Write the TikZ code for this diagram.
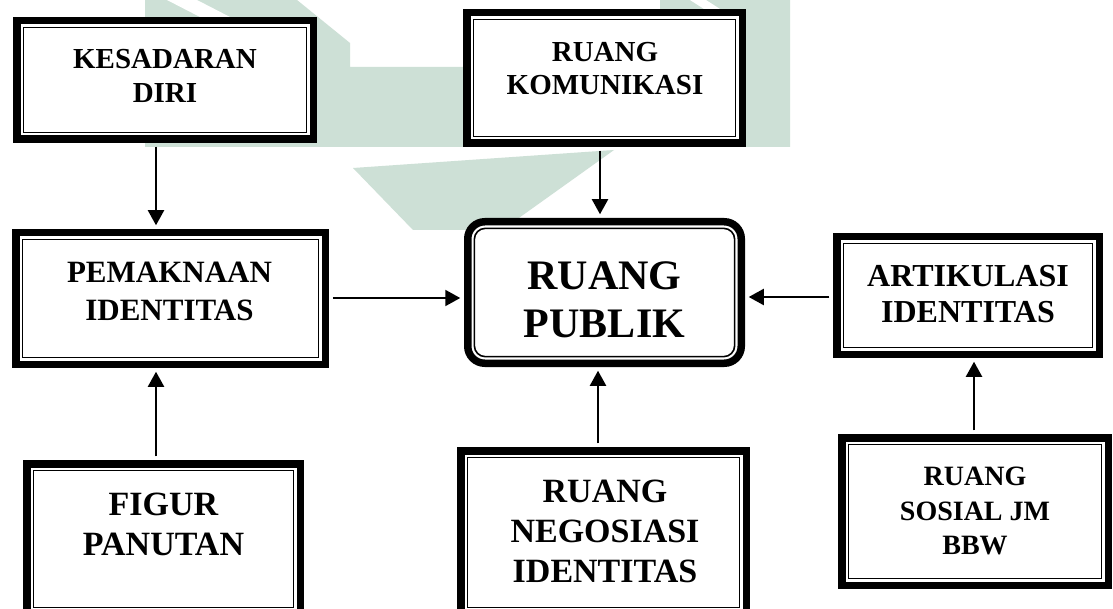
\documentclass[tikz,border=0pt]{standalone}
\usepackage{fontspec}
\setmainfont{Liberation Serif}
\usetikzlibrary{arrows.meta}
\definecolor{wm}{RGB}{205,224,214}
\begin{document}
\begin{tikzpicture}[x=1pt,y=-1pt,
  dbox/.style={draw, line width=7.5pt, inner sep=0pt, fill=white,
    path picture={\draw[line width=1.6pt]
      ([shift={(6.6pt,-6.6pt)}]path picture bounding box.north west) rectangle
      ([shift={(-6.6pt,6.6pt)}]path picture bounding box.south east);}},
  rbox/.style={draw, line width=7.5pt, inner sep=0pt, fill=white, rounded corners=17pt,
    path picture={\draw[line width=1.6pt, rounded corners=11pt]
      ([shift={(6.6pt,-6.6pt)}]path picture bounding box.north west) rectangle
      ([shift={(-6.6pt,6.6pt)}]path picture bounding box.south east);}},
  txt/.style={align=center, inner sep=0pt, anchor=north},
  arr/.style={line width=2pt, -{Triangle[length=15pt,width=16pt]},
    shorten >=3.75pt, shorten <=3.75pt}
]
\useasboundingbox (0,0) rectangle (1113,609);
\clip (0,0) rectangle (1113,609);
\fill[white] (0,0) rectangle (1113,609);

% watermark
\fill[wm] (145,0) -- (297,0) -- (350,43) -- (350,67) -- (660,67) -- (660,0)
  -- (790,0) -- (790,147) -- (145,147) -- cycle;
\fill[wm] (353,168) -- (614,150) -- (502,230) -- (413,230) -- cycle;
\fill[white] (167,0) -- (197,0) -- (230,17) -- (200,17) -- cycle;
\fill[white] (690,0) -- (706,0) -- (720,9) -- (704,9) -- cycle;

% boxes
\node[dbox, minimum width=296.5pt, minimum height=118.5pt] (kes) at (165,80) {};
\node[dbox, minimum width=275.5pt, minimum height=130.5pt] (kom) at (604.5,78) {};
\node[dbox, minimum width=309.5pt, minimum height=131.5pt] (pem) at (170.5,298.5) {};
\node[rbox, minimum width=273.5pt, minimum height=141.5pt] (pub) at (604.5,292.5) {};
\node[dbox, minimum width=262.5pt, minimum height=117.5pt] (art) at (968,295.5) {};
\node[dbox, minimum width=273.5pt, minimum height=150.5pt] (fig) at (163.5,539) {};
\node[dbox, minimum width=285.5pt, minimum height=163.5pt] (neg) at (603.5,532.5) {};
\node[dbox, minimum width=266.5pt, minimum height=147.5pt] (sos) at (975,511.5) {};

% texts
\node[txt, font=\bfseries\fontsize{29}{34}\selectfont] (kes-t) at (165,49) {KESADARAN\\DIRI};
\node[txt, font=\bfseries\fontsize{29}{33}\selectfont] (kom-t) at (605,42) {RUANG\\KOMUNIKASI};
\node[txt, font=\bfseries\fontsize{31}{38}\selectfont] (pem-t) at (169.5,262) {PEMAKNAAN\\IDENTITAS};
\node[txt, font=\bfseries\fontsize{42}{48}\selectfont] (pub-t) at (604.5,261) {RUANG\\PUBLIK};
\node[txt, font=\bfseries\fontsize{32}{36}\selectfont] (art-t) at (968,265) {ARTIKULASI\\IDENTITAS};
\node[txt, font=\bfseries\fontsize{34}{40}\selectfont] (fig-t) at (163.5,493) {FIGUR\\PANUTAN};
\node[txt, font=\bfseries\fontsize{34}{40}\selectfont] (neg-t) at (605,480) {RUANG\\NEGOSIASI\\IDENTITAS};
\node[txt, font=\bfseries\fontsize{28}{34.5}\selectfont] (sos-t) at (975,467) {RUANG\\SOSIAL JM\\BBW};

% connector guides
\coordinate (xl) at (156,0);
\coordinate (xk) at (600,0);
\coordinate (xn) at (598,0);
\coordinate (xs) at (974,0);
\coordinate (yp) at (0,298);
\coordinate (ya) at (0,297);

% connectors
\draw[arr] (kes.south -| xl) -- (pem.north -| xl);
\draw[arr] (fig.north -| xl) -- (pem.south -| xl);
\draw[arr] (kom.south -| xk) -- (pub.north -| xk);
\draw[arr] (neg.north -| xn) -- (pub.south -| xn);
\draw[arr] (pem.east |- yp) -- (pub.west |- yp);
\draw[arr] (art.west |- ya) -- (pub.east |- ya);
\draw[arr] (sos.north -| xs) -- (art.south -| xs);
\end{tikzpicture}
\end{document}
